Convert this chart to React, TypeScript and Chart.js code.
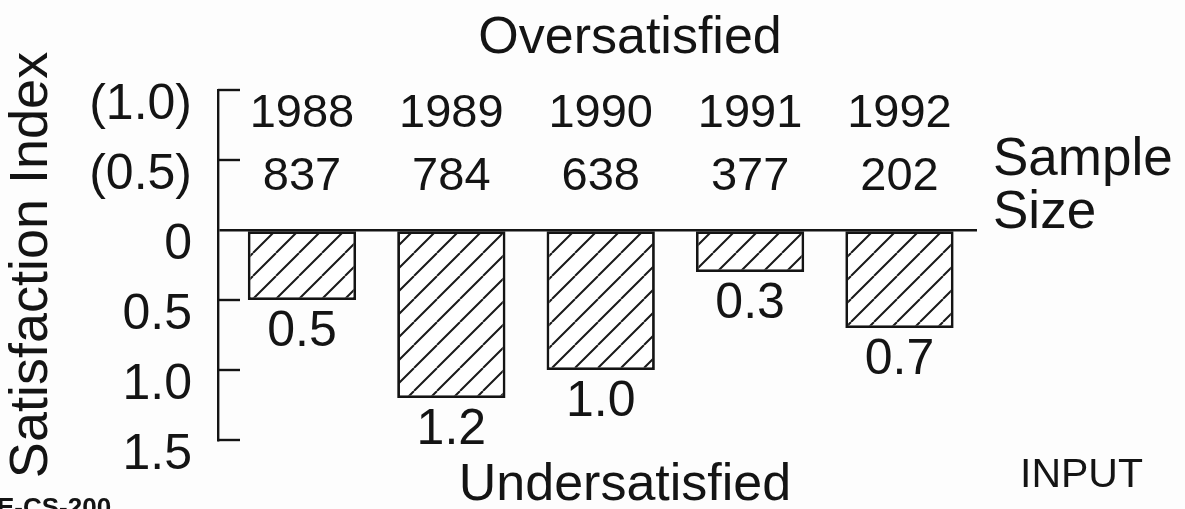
import React, { useEffect, useRef } from 'react';
import { Chart, registerables } from 'chart.js';

Chart.register(...registerables);

// ---- data ----
const years = ['1988', '1989', '1990', '1991', '1992'];
const sampleSizes = ['837', '784', '638', '377', '202'];
const satisfaction = [-0.5, -1.2, -1.0, -0.3, -0.7];
const valueLabels = ['0.5', '1.2', '1.0', '0.3', '0.7'];
const yTickValues = [1.0, 0.5, 0, -0.5, -1.0, -1.5];
const yTickLabels = ['(1.0)', '(0.5)', '0', '0.5', '1.0', '1.5'];
const xPositions = [0, 1, 2, 3, 4];

const FONT = "'Liberation Sans', Arial, Helvetica, sans-serif";
const INK = '#141414';

function makeHatch(): CanvasPattern | string {
  const s = 23;
  const c = document.createElement('canvas');
  c.width = s;
  c.height = s;
  const g = c.getContext('2d');
  if (!g) return '#fff';
  g.fillStyle = '#ffffff';
  g.fillRect(0, 0, s, s);
  g.strokeStyle = '#1a1a1a';
  g.lineWidth = 2;
  g.beginPath();
  for (let k = -1; k <= 1; k++) {
    g.moveTo(k * s, s);
    g.lineTo(k * s + s, 0);
  }
  g.stroke();
  return g.createPattern(c, 'repeat') || '#fff';
}

const annotations = {
  id: 'annotations',
  afterDraw(chart: any) {
    const { ctx, chartArea, scales } = chart;
    const xs = scales.x;
    const ys = scales.y;
    ctx.save();
    // inward tick marks
    ctx.strokeStyle = INK;
    ctx.lineWidth = 2.4;
    yTickValues.forEach((v) => {
      if (v === 0) return;
      const y = ys.getPixelForValue(v);
      ctx.beginPath();
      ctx.moveTo(chartArea.left, y);
      ctx.lineTo(chartArea.left + 22, y);
      ctx.stroke();
    });

    ctx.fillStyle = INK;
    ctx.textAlign = 'center';
    ctx.textBaseline = 'alphabetic';

    // years & sample sizes
    ctx.font = `47px ${FONT}`;
    years.forEach((t, i) => ctx.fillText(t, xs.getPixelForValue(xPositions[i]), 127));
    sampleSizes.forEach((t, i) => ctx.fillText(t, xs.getPixelForValue(xPositions[i]), 190));

    // value labels under bars
    const meta = chart.getDatasetMeta(0);
    ctx.font = `50px ${FONT}`;
    meta.data.forEach((el: any, i: number) => {
      ctx.fillText(valueLabels[i], el.x, el.y + 46);
    });

    // titles
    ctx.font = `52px ${FONT}`;
    ctx.fillText('Oversatisfied', 630, 53);
    ctx.fillText('Undersatisfied', 625, 500);

    ctx.textAlign = 'left';
    ctx.font = `53px ${FONT}`;
    ctx.fillText('Sample', 993, 175);
    ctx.fillText('Size', 993, 228);

    ctx.font = `41px ${FONT}`;
    ctx.fillText('INPUT', 1020, 487);

    ctx.font = `bold 26px ${FONT}`;
    ctx.fillText('E-CS-200', -3, 516);
    ctx.restore();
  },
};

export default function App() {
  const ref = useRef<HTMLCanvasElement | null>(null);

  useEffect(() => {
    const canvas = ref.current;
    if (!canvas) return;
    const chart = new Chart(canvas, {
      type: 'bar',
      data: {
        datasets: [
          {
            data: satisfaction.map((v, i) => ({ x: xPositions[i], y: v })),
            backgroundColor: makeHatch() as any,
            borderColor: INK,
            borderWidth: 2.8,
            borderSkipped: false,
            barPercentage: 0.725,
            categoryPercentage: 1,
          },
        ],
      },
      options: {
        responsive: false,
        animation: false,
        layout: { padding: { top: 90, bottom: 69, right: 208, left: 0 } },
        plugins: {
          legend: { display: false },
          tooltip: { enabled: false },
        },
        scales: {
          x: {
            type: 'linear',
            min: -0.562,
            max: 4.519,
            display: false,
            offset: false,
            afterBuildTicks: (s: any) => {
              s.ticks = xPositions.map((v) => ({ value: v }));
            },
          },
          y: {
            type: 'linear',
            min: -1.5,
            max: 1.0,
            afterFit: (s: any) => {
              s.width = 218;
            },
            border: { display: true, color: INK, width: 2.4 },
            grid: {
              drawTicks: false,
              lineWidth: 2.6,
              color: (c: any) =>
                c.tick && Math.abs(c.tick.value) < 1e-9 ? INK : 'rgba(0,0,0,0)',
            },
            ticks: {
              stepSize: 0.5,
              padding: 26,
              labelOffset: 15,
              color: INK,
              font: { family: FONT, size: 50 },
              callback: (v: any) => {
                const idx = yTickValues.findIndex((t) => Math.abs(t - Number(v)) < 1e-6);
                return idx >= 0 ? yTickLabels[idx] : '';
              },
            },
            title: {
              display: true,
              text: 'Satisfaction Index',
              color: INK,
              font: { family: FONT, size: 54 },
              padding: 0,
            },
          },
        },
      } as any,
      plugins: [annotations],
    });
    return () => chart.destroy();
  }, []);

  return (
    <div
      style={{
        position: 'fixed',
        left: 0,
        top: 0,
        width: 1185,
        height: 509,
        background: '#fdfdfd',
        overflow: 'hidden',
      }}
    >
      <canvas ref={ref} width={1185} height={509} style={{ display: 'block' }} />
    </div>
  );
}
